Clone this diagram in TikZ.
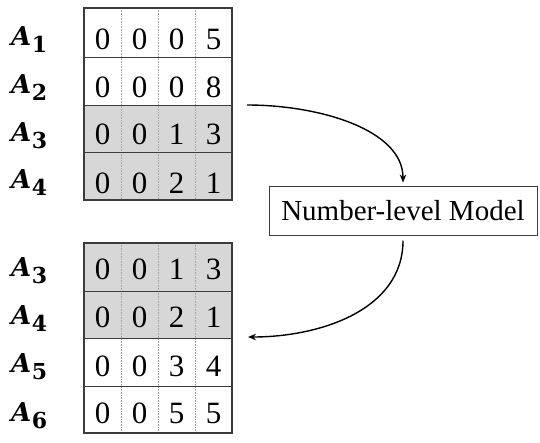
\documentclass[tikz,border=0pt]{standalone}
\usepackage{fontspec}
\newfontfamily\boxfont{Liberation Serif}
\newfontfamily\labfont{DejaVu Serif}
\usetikzlibrary{arrows.meta}
\definecolor{cellgray}{RGB}{215,215,215}
\definecolor{linegray}{RGB}{60,60,60}
\newcommand{\lab}[1]{{\labfont\fontsize{26}{26}\selectfont\bfseries\itshape A}\kern0.5pt\raisebox{-7pt}{\labfont\fontsize{22}{22}\selectfont\bfseries #1}}
\tikzset{
  digit/.style={anchor=base,inner sep=0pt,font=\boxfont\fontsize{31}{31}\selectfont},
  rowlabel/.style={anchor=base west,inner sep=0pt},
  outer/.style={draw=linegray,line width=1.1pt},
  hsep/.style={draw=linegray,line width=0.9pt},
  vsep/.style={draw=gray!70,line width=0.4pt,dash pattern=on 1pt off 0.6pt},
  modelbox/.style={draw=linegray,line width=1pt,minimum width=268pt,minimum height=49pt,inner sep=0pt,font=\boxfont\fontsize{29}{29}\selectfont},
  flow/.style={line width=1.4pt,-{Stealth[length=8pt,width=6.5pt]}}
}
\begin{document}
\begin{tikzpicture}[x=1pt,y=-1pt]
\useasboundingbox (0,0) rectangle (540,442);
% ---------- top table ----------
\fill[cellgray] (84,105) rectangle (232,200);
\foreach \xx in {121,158,195} \draw[vsep] (\xx,8) -- (\xx,200);
\foreach \yy in {57,105,152} \draw[hsep] (84,\yy) -- (232,\yy);
\draw[outer] (84,8) rectangle (232,200);
\foreach \r/\base/\a/\b/\c/\d in {1/49/0/0/0/5,2/97/0/0/0/8,3/144/0/0/1/3,4/193/0/0/2/1}{
  \node[digit] (t\r-1) at (102.5,\base) {\a};
  \node[digit] (t\r-2) at (139.5,\base) {\b};
  \node[digit] (t\r-3) at (176.5,\base) {\c};
  \node[digit] (t\r-4) at (213.5,\base) {\d};
}
\node[rowlabel] (la1) at (11,45) {\lab{1}};
\node[rowlabel] (la2) at (11,93) {\lab{2}};
\node[rowlabel] (la3) at (11,141) {\lab{3}};
\node[rowlabel] (la4) at (11,188) {\lab{4}};
% ---------- bottom table ----------
\fill[cellgray] (84,243) rectangle (232,338);
\foreach \xx in {121,158,195} \draw[vsep] (\xx,243) -- (\xx,433);
\foreach \yy in {291,338,386} \draw[hsep] (84,\yy) -- (232,\yy);
\draw[outer] (84,243) rectangle (232,433);
\foreach \r/\base/\a/\b/\c/\d in {1/279/0/0/1/3,2/327/0/0/2/1,3/376/0/0/3/4,4/423/0/0/5/5}{
  \node[digit] (b\r-1) at (102.5,\base) {\a};
  \node[digit] (b\r-2) at (139.5,\base) {\b};
  \node[digit] (b\r-3) at (176.5,\base) {\c};
  \node[digit] (b\r-4) at (213.5,\base) {\d};
}
\node[rowlabel] (lb3) at (11,276) {\lab{3}};
\node[rowlabel] (lb4) at (11,324) {\lab{4}};
\node[rowlabel] (lb5) at (11,372) {\lab{5}};
\node[rowlabel] (lb6) at (11,421) {\lab{6}};
% ---------- model ----------
\node[modelbox] (model) at (403,210.5) {Number-level Model};
\coordinate (out1) at (247,105);
\coordinate (in2) at (248,337);
\draw[flow,shorten >=3pt] (out1) .. controls (320,105) and (403,130) .. (model.north);
\draw[flow,shorten <=5pt] (model.south) .. controls (403,310) and (320,337) .. (in2);
\end{tikzpicture}
\end{document}
